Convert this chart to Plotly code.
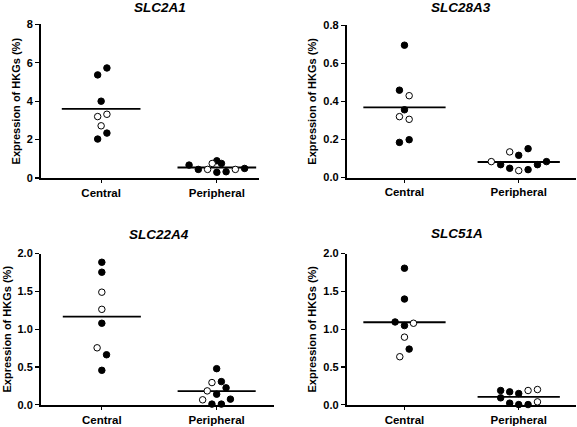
import plotly.graph_objects as go

categories = ["Central", "Peripheral"]
genes = ["SLC2A1", "SLC28A3", "SLC22A4", "SLC51A"]

# ---- values (y), with horizontal spread offsets within a category ----
# SLC2A1
g1_c_y = [5.73, 5.37, 4.0, 3.2, 3.32, 2.72, 2.34, 2.03]
g1_c_dx = [0.05, -0.03, 0.0, -0.03, 0.05, 0.0, 0.05, -0.03]
g1_c_open = [0, 0, 0, 1, 1, 1, 0, 0]
g1_p_y = [0.675, 0.45, 0.45, 0.76, 0.9, 0.76, 0.3, 0.33, 0.45, 0.5]
g1_p_dx = [-0.24, -0.16, -0.08, -0.04, 0.0, 0.04, 0.0, 0.08, 0.16, 0.24]
g1_p_open = [0, 0, 1, 1, 0, 0, 0, 0, 1, 0]
g1_means = [3.6, 0.55]

# SLC28A3
g2_c_y = [0.695, 0.459, 0.43, 0.356, 0.32, 0.306, 0.199, 0.185]
g2_c_dx = [0.0, -0.044, 0.041, 0.0, -0.044, 0.041, 0.041, -0.044]
g2_c_open = [0, 0, 1, 0, 1, 1, 0, 0]
g2_p_y = [0.084, 0.068, 0.135, 0.049, 0.117, 0.037, 0.152, 0.042, 0.068, 0.084]
g2_p_dx = [-0.24, -0.158, -0.079, -0.079, 0.0, 0.0, 0.082, 0.082, 0.164, 0.243]
g2_p_open = [1, 0, 1, 0, 0, 1, 0, 0, 0, 0]
g2_means = [0.369, 0.082]

# SLC22A4
g3_c_y = [1.886, 1.754, 1.49, 1.263, 1.079, 0.754, 0.662, 0.456]
g3_c_dx = [0.0, 0.0, 0.0, 0.0, 0.0, -0.041, 0.041, 0.0]
g3_c_open = [0, 0, 1, 1, 0, 1, 0, 0]
g3_p_y = [0.478, 0.294, 0.307, 0.184, 0.224, 0.14, 0.066, 0.075, 0.009, 0.009]
g3_p_dx = [0.0, -0.041, 0.041, -0.082, 0.082, 0.0, -0.122, 0.12, -0.041, 0.041]
g3_p_open = [0, 1, 0, 1, 0, 0, 1, 0, 0, 0]
g3_means = [1.167, 0.18]

# SLC51A
g4_c_y = [1.807, 1.399, 1.096, 1.048, 1.079, 0.895, 0.737, 0.636]
g4_c_dx = [0.0, 0.0, -0.082, 0.0, 0.079, 0.0, 0.041, -0.041]
g4_c_open = [0, 0, 0, 0, 1, 1, 0, 1]
g4_p_y = [0.189, 0.171, 0.149, 0.189, 0.202, 0.092, 0.022, 0.003, 0.003, 0.039]
g4_p_dx = [-0.158, -0.079, 0.0, 0.082, 0.164, -0.158, -0.079, 0.0, 0.082, 0.164]
g4_p_open = [0, 0, 0, 1, 1, 0, 0, 0, 0, 1]
g4_means = [1.092, 0.105]

y_ticks = [
    [0, 2, 4, 6, 8],
    [0.0, 0.2, 0.4, 0.6, 0.8],
    [0.0, 0.5, 1.0, 1.5, 2.0],
    [0.0, 0.5, 1.0, 1.5, 2.0],
]
y_ticktext = [
    ["0", "2", "4", "6", "8"],
    ["0.0", "0.2", "0.4", "0.6", "0.8"],
    ["0.0", "0.5", "1.0", "1.5", "2.0"],
    ["0.0", "0.5", "1.0", "1.5", "2.0"],
]

panels = [
    (g1_c_y, g1_c_dx, g1_c_open, g1_p_y, g1_p_dx, g1_p_open, g1_means),
    (g2_c_y, g2_c_dx, g2_c_open, g2_p_y, g2_p_dx, g2_p_open, g2_means),
    (g3_c_y, g3_c_dx, g3_c_open, g3_p_y, g3_p_dx, g3_p_open, g3_means),
    (g4_c_y, g4_c_dx, g4_c_open, g4_p_y, g4_p_dx, g4_p_open, g4_means),
]

# ---- layout geometry ----
W, H = 577, 427
FONT = "Liberation Sans, Arial, sans-serif"
x_domains = [[0.071, 0.449], [0.601, 0.998], [0.071, 0.475], [0.601, 0.998]]
y_domains = [[0.583, 0.943], [0.584, 0.941], [0.052, 0.406], [0.052, 0.406]]
x_ranges = [[-0.52, 1.365], [-0.505, 1.5], [-0.53, 1.5], [-0.505, 1.5]]
y_ranges = [[0, 8], [0, 0.8], [0, 2.0], [0, 2.0]]
title_pos = [(160, 7), (461, 7), (159, 234), (457, 233)]
mean_hw = [0.34, 0.36, 0.34, 0.36]

fig = go.Figure()

for k, (cy, cdx, co, py, pdx, po, means) in enumerate(panels):
    xa = "x" if k == 0 else f"x{k+1}"
    ya = "y" if k == 0 else f"y{k+1}"
    for ci, (ys, dxs, opens) in enumerate([(cy, cdx, co), (py, pdx, po)]):
        hw = mean_hw[k]
        fig.add_trace(go.Scatter(
            x=[ci - hw, ci + hw], y=[means[ci], means[ci]], mode="lines",
            xaxis=xa, yaxis=ya, showlegend=False, cliponaxis=False,
            line=dict(color="black", width=1.8),
        ))
        for want_open in (0, 1):
            xs = [ci + d for d, o in zip(dxs, opens) if o == want_open]
            yv = [v for v, o in zip(ys, opens) if o == want_open]
            if not xs:
                continue
            fig.add_trace(go.Scatter(
                x=xs, y=yv, mode="markers", xaxis=xa, yaxis=ya,
                showlegend=False, cliponaxis=False,
                marker=dict(size=6.5, symbol="circle",
                            color="white" if want_open else "black",
                            line=dict(color="black", width=1)),
            ))

layout = dict(
    template="none",
    width=W, height=H, margin=dict(l=0, r=0, t=0, b=0, autoexpand=False),
    paper_bgcolor="white", plot_bgcolor="white",
    font=dict(family=FONT, color="black"),
    showlegend=False,
)
annotations = []
for k in range(4):
    sx = "xaxis" if k == 0 else f"xaxis{k+1}"
    sy = "yaxis" if k == 0 else f"yaxis{k+1}"
    anchor_x = "y" if k == 0 else f"y{k+1}"
    anchor_y = "x" if k == 0 else f"x{k+1}"
    layout[sx] = dict(
        domain=x_domains[k], range=x_ranges[k], anchor=anchor_x,
        tickvals=[0, 1], ticktext=categories, showgrid=False, zeroline=False,
        showline=True, linecolor="black", linewidth=2,
        ticks="outside", ticklen=3, tickwidth=1.2, tickcolor="black",
        tickfont=dict(family=FONT, size=11.5, color="black", weight="bold"),
        fixedrange=True, automargin=False,
    )
    layout[sy] = dict(
        domain=y_domains[k], range=y_ranges[k], anchor=anchor_y,
        tickvals=y_ticks[k], ticktext=y_ticktext[k],
        showgrid=False, zeroline=False,
        showline=True, linecolor="black", linewidth=2,
        ticks="outside", ticklen=4, tickwidth=1.2, tickcolor="black",
        tickfont=dict(family=FONT, size=11, color="black", weight="bold"),
        title=dict(text="Expression of HKGs (%)", standoff=4,
                   font=dict(family=FONT, size=11, color="black", weight="bold")),
        fixedrange=True, automargin=False,
    )
    tx, ty = title_pos[k]
    annotations.append(dict(
        text=f"<b><i>{genes[k]}</i></b>", xref="paper", yref="paper",
        x=tx / W, y=1 - ty / H, xanchor="center", yanchor="middle",
        showarrow=False, font=dict(family=FONT, size=13.5, color="black"),
    ))
layout["annotations"] = annotations
fig.update_layout(**layout)

fig.write_html(
    "out.html",
    config={"displayModeBar": False, "staticPlot": True},
    post_script="document.body.style.margin='0';document.body.style.padding='0';",
)
